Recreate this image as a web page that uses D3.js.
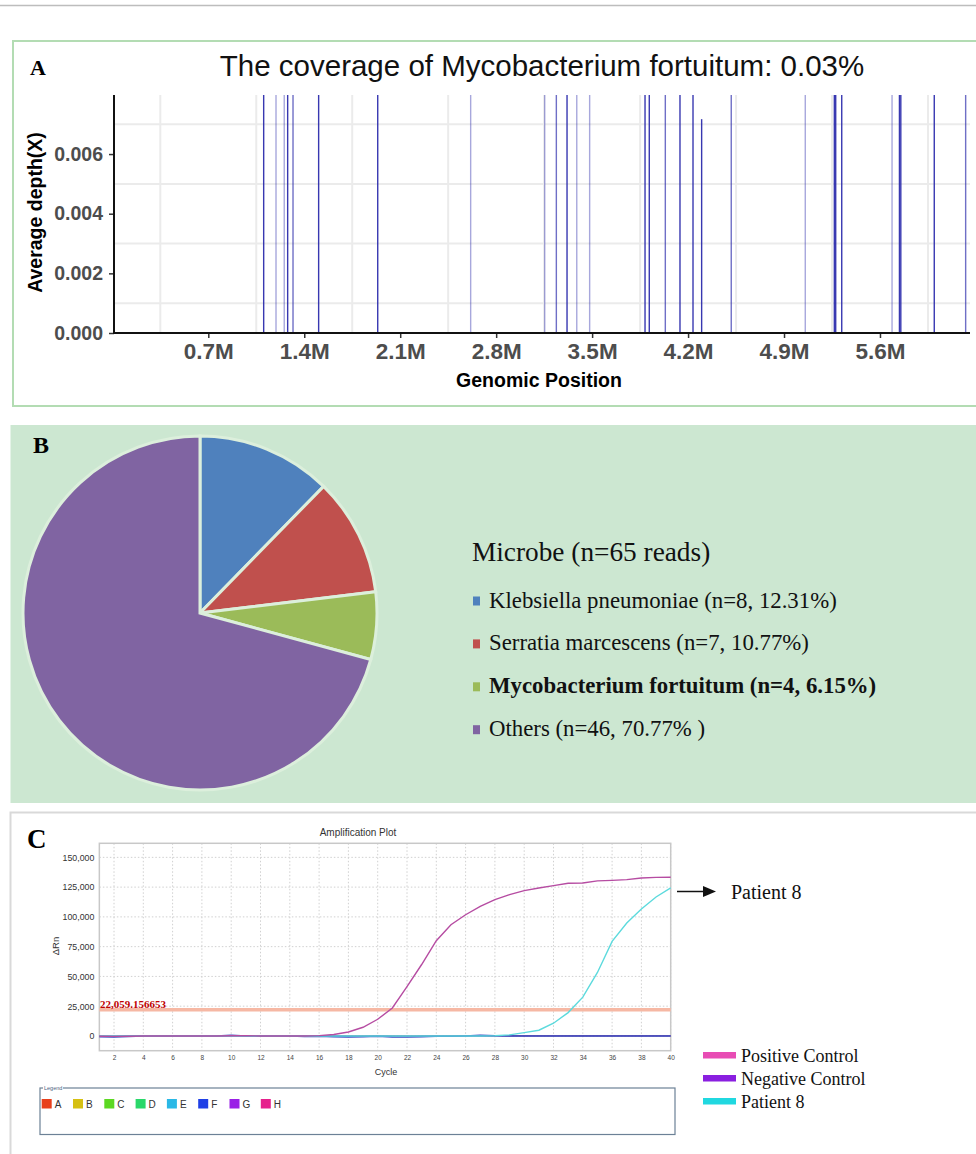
<!DOCTYPE html>
<html><head><meta charset="utf-8">
<script src="https://cdn.jsdelivr.net/npm/d3@7"></script>
<style>body{margin:0;background:#fff}svg{display:block}</style>
</head><body><svg id="c" width="976" height="1154"></svg>
<script>
// ---------------- Panel A data ----------------
const genomePositionsM = [1.104,1.194,1.254,1.279,1.318,1.505,1.936,2.614,3.154,3.239,3.317,3.388,3.482,3.886,3.917,4.034,4.141,4.236,4.299,4.515,5.055,5.267,5.277,5.321,5.688,5.742,5.752,5.996,6.225];
const averageDepth     = [0.0143,0.0143,0.0143,0.0143,0.0143,0.0143,0.0143,0.0143,0.0143,0.0143,0.0143,0.0143,0.0143,0.0143,0.0143,0.0143,0.0143,0.0143,0.00717,0.0143,0.0143,0.0143,0.0143,0.0143,0.0143,0.0143,0.0143,0.0143,0.0143];
const overlapReads     = [3,1,1,3,2,3,3,1,1,2,3,1,1,3,3,2,3,3,3,2,1,3,3,3,1,3,3,3,2];
const xTicksA = [0.7,1.4,2.1,2.8,3.5,4.2,4.9,5.6];
const yTicksA = [0,0.002,0.004,0.006];
const gridXA = [0.35,1.05,1.75,2.45,3.15,3.85,4.55,5.25,5.95];
const gridYA = [0.001,0.003,0.005,0.007];
const titleA = "The coverage of Mycobacterium fortuitum: 0.03%";

// ---------------- Panel B data ----------------
const microbeNames = ["Klebsiella pneumoniae","Serratia marcescens","Mycobacterium fortuitum","Others"];
const microbeReads = [8,7,4,46];
const microbePct = ["12.31%","10.77%","6.15%","70.77% "];
const microbeColors = ["#4f81bd","#c0504d","#9bbb59","#8064a2"];

// ---------------- Panel C data ----------------
const cycles = [1,2,3,4,5,6,7,8,9,10,11,12,13,14,15,16,17,18,19,20,21,22,23,24,25,26,27,28,29,30,31,32,33,34,35,36,37,38,39,40];
const positiveControl = [-300,-400,-200,0,0,0,0,0,0,200,100,0,0,0,-100,300,1200,3300,7300,14000,23500,41500,60000,80000,93400,101800,108800,114500,118700,122000,124300,126300,128200,128500,130200,130700,131300,132700,133200,133300];
const negativeControl = [0,0,0,0,0,0,0,0,0,0,0,0,0,0,0,0,0,0,0,0,0,0,0,0,0,0,0,0,0,0,0,0,0,0,0,0,0,0,0,0];
const patient8 = [0,0,0,0,0,0,0,0,0,0,0,0,0,0,0,0,0,0,0,0,0,0,0,0,0,0,0,200,900,2800,4800,10700,19600,32600,53300,79400,94900,106600,116700,124300];
const wellF = [-700,-900,-400,0,0,0,0,0,0,600,0,0,0,0,-500,-300,-600,-800,-700,-300,-800,-900,-600,-200,-300,0,500,200,0,0,0,0,0,0,0,0,0,0,0,0];
const threshold = 22059.156653;
const xTicksC = [2,4,6,8,10,12,14,16,18,20,22,24,26,28,30,32,34,36,38,40];
const yTicksC = [0,25000,50000,75000,100000,125000,150000];
const wellLetters = ["A","B","C","D","E","F","G","H"];
const wellColors = ["#e8401c","#d6c012","#5cd822","#2ad86a","#2ab8e6","#2040e6","#9a20e6","#e6208c"];
const sampleNames = ["Positive Control","Negative Control","Patient 8"];
const sampleColors = ["#e84cb4","#8a1fe0","#20d8e0"];

const svg = d3.select("#c");
svg.append("rect").attr("width",976).attr("height",1154).attr("fill","#fff");
svg.append("line").attr("x1",0).attr("x2",976).attr("y1",5.5).attr("y2",5.5).attr("stroke","#bdbdbd").attr("stroke-width",1.5);

// ================= Panel A =================
svg.append("rect").attr("x",13).attr("y",41).attr("width",975).attr("height",365)
  .attr("fill","none").attr("stroke","#b3dcb3").attr("stroke-width",2);
svg.append("text").attr("x",30).attr("y",75).text("A")
  .attr("font-family","Liberation Serif").attr("font-weight","bold").attr("font-size",22);
svg.append("text").attr("x",542).attr("y",76).attr("text-anchor","middle").text(titleA)
  .attr("font-family","Liberation Sans").attr("font-size",29.5).attr("fill","#111");

const xA = d3.scaleLinear().domain([0.01208,6.2567]).range([114,970]);
const yA = d3.scaleLinear().domain([0,0.00798]).range([333,95]);
const gA = svg.append("g");
svg.append("clipPath").attr("id","clipA").append("rect").attr("x",114).attr("y",95).attr("width",856).attr("height",238);

gA.selectAll(".gx").data(gridXA).join("line").attr("x1",d=>xA(d)).attr("x2",d=>xA(d))
  .attr("y1",95).attr("y2",333).attr("stroke","#ebebeb").attr("stroke-width",2);
gA.selectAll(".gy").data(gridYA).join("line").attr("x1",114).attr("x2",970)
  .attr("y1",d=>yA(d)).attr("y2",d=>yA(d)).attr("stroke","#ebebeb").attr("stroke-width",2);

const opac = d3.scaleLinear().domain([1,3]).range([0.4,0.9]);
gA.append("g").attr("clip-path","url(#clipA)").selectAll("line").data(genomePositionsM).join("line")
  .attr("x1",d=>xA(d)).attr("x2",d=>xA(d))
  .attr("y1",yA(0)).attr("y2",(d,i)=>yA(averageDepth[i]))
  .attr("stroke","#2222a8").attr("stroke-width",1.4).attr("stroke-opacity",(d,i)=>opac(overlapReads[i]));

const axLA = gA.append("g").attr("transform","translate(114,0)")
  .call(d3.axisLeft(yA).tickValues(yTicksA).tickFormat(d3.format(".3f")).tickSize(5).tickPadding(6));
axLA.select(".domain").remove();
axLA.selectAll(".tick line").attr("stroke","#333").attr("stroke-width",1.5);
axLA.selectAll("text").attr("font-family","Liberation Sans").attr("font-weight","bold").attr("font-size",19.5).attr("fill","#4d4d4d");
const axBA = gA.append("g").attr("transform","translate(0,333)")
  .call(d3.axisBottom(xA).tickValues(xTicksA).tickFormat(d=>d+"M").tickSize(5).tickPadding(5));
axBA.select(".domain").remove();
axBA.selectAll(".tick line").attr("stroke","#333").attr("stroke-width",1.5);
axBA.selectAll("text").attr("font-family","Liberation Sans").attr("font-weight","bold").attr("font-size",22.5).attr("fill","#4d4d4d");
gA.append("line").attr("x1",114).attr("x2",114).attr("y1",95).attr("y2",334).attr("stroke","#111").attr("stroke-width",2);
gA.append("line").attr("x1",113).attr("x2",970).attr("y1",333).attr("y2",333).attr("stroke","#111").attr("stroke-width",2);
gA.append("text").attr("x",539).attr("y",387).attr("text-anchor","middle").text("Genomic Position")
  .attr("font-family","Liberation Sans").attr("font-weight","bold").attr("font-size",19.5);
gA.append("text").attr("transform","translate(42,212.5) rotate(-90)").attr("text-anchor","middle").text("Average depth(X)")
  .attr("font-family","Liberation Sans").attr("font-weight","bold").attr("font-size",19.5);

// ================= Panel B =================
svg.append("rect").attr("x",10.5).attr("y",425).attr("width",975).attr("height",378).attr("fill","#cce7d1");
svg.append("text").attr("x",33).attr("y",453).text("B")
  .attr("font-family","Liberation Serif").attr("font-weight","bold").attr("font-size",24);
const pie = d3.pie().sort(null).value(d=>d);
const arc = d3.arc().innerRadius(0).outerRadius(177);
svg.append("g").attr("transform","translate(200,613)").selectAll("path").data(pie(microbeReads)).join("path")
  .attr("d",arc).attr("fill",(d,i)=>microbeColors[i]).attr("stroke","#dcefdc").attr("stroke-width",3);
svg.append("text").attr("x",472).attr("y",561).text("Microbe (n=65 reads)")
  .attr("font-family","Liberation Serif").attr("font-size",27.3).attr("fill","#111");
const legB = svg.append("g").selectAll("g").data(microbeNames).join("g")
  .attr("transform",(d,i)=>`translate(0,${607.5+i*42.9})`);
legB.append("rect").attr("x",473).attr("y",-11).attr("width",7).attr("height",9).attr("fill",(d,i)=>microbeColors[i]);
legB.append("text").attr("x",489).attr("y",0)
  .text((d,i)=>`${d} (n=${microbeReads[i]}, ${microbePct[i]})`)
  .attr("font-family","Liberation Serif").attr("font-size",22.8).attr("fill","#111")
  .attr("font-weight",(d,i)=>i===2?"bold":"normal");

// ================= Panel C =================
svg.append("rect").attr("x",10.5).attr("y",812.5).attr("width",975).attr("height",350)
  .attr("fill","none").attr("stroke","#d9d9d9").attr("stroke-width",2);
svg.append("text").attr("x",27).attr("y",848).text("C")
  .attr("font-family","Liberation Serif").attr("font-weight","bold").attr("font-size",27);
const xC = d3.scaleLinear().domain([1,40]).range([99.35,670.7]);
const yC = d3.scaleLinear().domain([-12400,161800]).range([1050.7,843.3]);
const gC = svg.append("g");
gC.append("text").attr("x",358).attr("y",836).attr("text-anchor","middle").text("Amplification Plot")
  .attr("font-family","Liberation Sans").attr("font-size",10).attr("fill","#333");
gC.selectAll(".vx").data(xTicksC).join("line").attr("x1",d=>xC(d)).attr("x2",d=>xC(d))
  .attr("y1",843.3).attr("y2",1050.7).attr("stroke","#d0d0d0").attr("stroke-dasharray","1.5,2");
gC.selectAll(".hy").data(yTicksC).join("line").attr("x1",99.35).attr("x2",670.7)
  .attr("y1",d=>yC(d)).attr("y2",d=>yC(d)).attr("stroke","#d0d0d0").attr("stroke-dasharray","1.5,2");
gC.append("rect").attr("x",99.35).attr("y",843.3).attr("width",571.35).attr("height",207.4)
  .attr("fill","none").attr("stroke","#c8c8c8").attr("stroke-width",1.5);
const axLC = gC.append("g").attr("transform","translate(99.35,0)")
  .call(d3.axisLeft(yC).tickValues(yTicksC).tickFormat(d3.format(",")).tickSize(0).tickPadding(5));
axLC.select(".domain").remove();
axLC.selectAll("text").attr("font-family","Liberation Sans").attr("font-size",8.8).attr("fill","#333");
const axBC = gC.append("g").attr("transform","translate(0,1050.7)")
  .call(d3.axisBottom(xC).tickValues(xTicksC).tickSize(0).tickPadding(5));
axBC.select(".domain").remove();
axBC.selectAll("text").attr("font-family","Liberation Sans").attr("font-size",6.5).attr("fill","#444");
gC.append("text").attr("x",386).attr("y",1075).attr("text-anchor","middle").text("Cycle")
  .attr("font-family","Liberation Sans").attr("font-size",9).attr("fill","#333");
gC.append("text").attr("transform","translate(59,946) rotate(-90)").attr("text-anchor","middle").text("ΔRn")
  .attr("font-family","Liberation Sans").attr("font-size",9.5).attr("fill","#333");

// threshold
gC.append("line").attr("x1",99.35).attr("x2",670.7).attr("y1",yC(threshold)).attr("y2",yC(threshold))
  .attr("stroke","#f6b8a4").attr("stroke-width",3.5);
gC.append("text").attr("x",100).attr("y",yC(threshold)-1.5).text(d3.format(",.6f")(threshold))
  .attr("font-family","Liberation Serif").attr("font-weight","bold").attr("font-size",11).attr("fill","#c00000");

const lineC = d3.line().x((d,i)=>xC(cycles[i])).y(d=>yC(d));
gC.append("path").datum(negativeControl).attr("d",lineC).attr("fill","none").attr("stroke","#7a3c90").attr("stroke-width",1.3);
gC.append("path").datum(wellF).attr("d",lineC).attr("fill","none").attr("stroke","#3848c0").attr("stroke-width",1.6);
gC.append("path").datum(patient8).attr("d",lineC).attr("fill","none").attr("stroke","#5cdadd").attr("stroke-width",1.4);
gC.append("path").datum(positiveControl).attr("d",lineC).attr("fill","none").attr("stroke","#b64ca2").attr("stroke-width",1.4);

// arrow + Patient 8
svg.append("line").attr("x1",677).attr("x2",705).attr("y1",891.5).attr("y2",891.5).attr("stroke","#111").attr("stroke-width",1.5);
svg.append("path").attr("d","M703,886 L716,891.5 L703,897 Z").attr("fill","#111");
svg.append("text").attr("x",731).attr("y",899).text("Patient 8")
  .attr("font-family","Liberation Serif").attr("font-size",20).attr("fill","#111");

// right legend
const legR = svg.append("g").selectAll("g").data(sampleNames).join("g")
  .attr("transform",(d,i)=>`translate(0,${1055+i*23})`);
legR.append("rect").attr("x",703).attr("y",-3).attr("width",33).attr("height",6.5).attr("fill",(d,i)=>sampleColors[i]);
legR.append("text").attr("x",741).attr("y",7).text(d=>d)
  .attr("font-family","Liberation Serif").attr("font-size",18).attr("fill","#111");

// bottom well legend box
svg.append("rect").attr("x",40).attr("y",1088).attr("width",635).attr("height",46.5)
  .attr("fill","none").attr("stroke","#6c8196").attr("stroke-width",1.2);
svg.append("rect").attr("x",43).attr("y",1085).attr("width",20).attr("height",6).attr("fill","#fff");
svg.append("text").attr("x",44).attr("y",1090).text("Legend")
  .attr("font-family","Liberation Sans").attr("font-size",5.5).attr("fill","#4a5f80");
const legW = svg.append("g").selectAll("g").data(wellLetters).join("g")
  .attr("transform",(d,i)=>`translate(${41.7+i*31.3},1104)`);
legW.append("rect").attr("x",0).attr("y",-5).attr("width",10).attr("height",9.5).attr("fill",(d,i)=>wellColors[i]);
legW.append("text").attr("x",13).attr("y",3.5).text(d=>d)
  .attr("font-family","Liberation Sans").attr("font-size",10).attr("fill","#333");
</script></body></html>
